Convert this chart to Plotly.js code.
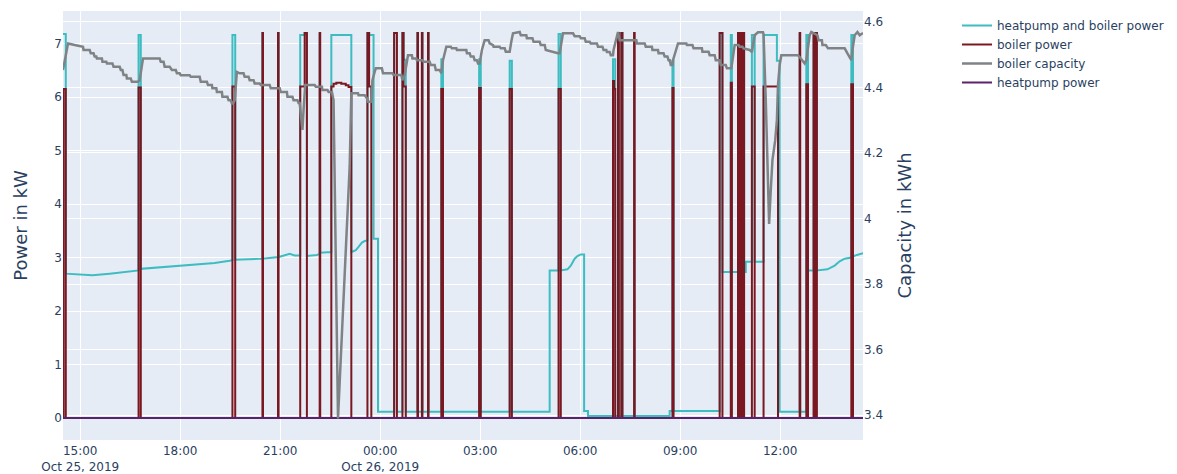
<!DOCTYPE html>
<html>
<head>
<meta charset="utf-8">
<script src="https://cdn.plot.ly/plotly-3.0.1.min.js"></script>
<style>
  html, body { margin: 0; padding: 0; background: #fff; }
  #chart { width: 1177px; height: 474px; }
</style>
</head>
<body>
<div id="chart"></div>
<script>
// Combined power of heat pump and boiler (kW); a repeated time marks a jump
const totalTime = [
  '2019-10-25 14:29', '2019-10-25 14:34', '2019-10-25 14:34', '2019-10-25 15:00', '2019-10-25 15:22',
  '2019-10-25 15:53', '2019-10-25 16:20', '2019-10-25 16:45', '2019-10-25 16:45', '2019-10-25 16:49',
  '2019-10-25 16:49', '2019-10-25 17:23', '2019-10-25 17:59', '2019-10-25 18:35', '2019-10-25 19:02',
  '2019-10-25 19:29', '2019-10-25 19:34', '2019-10-25 19:34', '2019-10-25 19:39', '2019-10-25 19:39',
  '2019-10-25 20:05', '2019-10-25 20:27', '2019-10-25 20:28', '2019-10-25 20:28', '2019-10-25 20:29',
  '2019-10-25 20:29', '2019-10-25 20:50', '2019-10-25 20:56', '2019-10-25 20:56', '2019-10-25 20:57',
  '2019-10-25 20:57', '2019-10-25 21:08', '2019-10-25 21:17', '2019-10-25 21:26', '2019-10-25 21:36',
  '2019-10-25 21:36', '2019-10-25 21:44', '2019-10-25 21:44', '2019-10-25 21:48', '2019-10-25 21:48',
  '2019-10-25 22:06', '2019-10-25 22:11', '2019-10-25 22:11', '2019-10-25 22:12', '2019-10-25 22:12',
  '2019-10-25 22:25', '2019-10-25 22:32', '2019-10-25 22:32', '2019-10-25 23:08', '2019-10-25 23:08',
  '2019-10-25 23:16', '2019-10-25 23:21', '2019-10-25 23:27', '2019-10-25 23:32', '2019-10-25 23:37',
  '2019-10-25 23:37', '2019-10-25 23:40', '2019-10-25 23:40', '2019-10-25 23:48', '2019-10-25 23:48',
  '2019-10-25 23:56', '2019-10-25 23:56',
  '2019-10-26 00:25', '2019-10-26 00:25', '2019-10-26 00:30', '2019-10-26 00:30',
  '2019-10-26 00:40', '2019-10-26 00:40', '2019-10-26 00:42', '2019-10-26 00:42', '2019-10-26 00:46',
  '2019-10-26 00:46', '2019-10-26 01:07', '2019-10-26 01:07', '2019-10-26 01:08', '2019-10-26 01:08',
  '2019-10-26 01:15', '2019-10-26 01:15', '2019-10-26 01:16', '2019-10-26 01:16', '2019-10-26 01:26',
  '2019-10-26 01:26', '2019-10-26 01:27', '2019-10-26 01:27', '2019-10-26 01:50', '2019-10-26 01:50',
  '2019-10-26 01:53', '2019-10-26 01:53', '2019-10-26 02:58', '2019-10-26 02:58', '2019-10-26 03:01',
  '2019-10-26 03:01', '2019-10-26 03:53', '2019-10-26 03:53', '2019-10-26 03:57', '2019-10-26 03:57',
  '2019-10-26 05:05', '2019-10-26 05:05', '2019-10-26 05:21', '2019-10-26 05:21', '2019-10-26 05:25',
  '2019-10-26 05:25', '2019-10-26 05:37', '2019-10-26 05:43', '2019-10-26 05:46', '2019-10-26 05:50',
  '2019-10-26 05:55', '2019-10-26 06:01', '2019-10-26 06:07', '2019-10-26 06:07', '2019-10-26 06:14',
  '2019-10-26 06:14', '2019-10-26 06:59', '2019-10-26 06:59', '2019-10-26 07:03', '2019-10-26 07:03',
  '2019-10-26 07:08', '2019-10-26 07:08', '2019-10-26 07:09:30', '2019-10-26 07:09:30', '2019-10-26 07:14',
  '2019-10-26 07:14', '2019-10-26 07:16', '2019-10-26 07:16', '2019-10-26 07:37', '2019-10-26 07:37',
  '2019-10-26 07:38', '2019-10-26 07:38', '2019-10-26 08:41', '2019-10-26 08:41', '2019-10-26 08:46',
  '2019-10-26 08:46', '2019-10-26 08:48', '2019-10-26 08:48', '2019-10-26 10:11', '2019-10-26 10:11',
  '2019-10-26 10:16', '2019-10-26 10:16', '2019-10-26 10:31', '2019-10-26 10:31', '2019-10-26 10:33',
  '2019-10-26 10:33', '2019-10-26 10:44', '2019-10-26 10:44', '2019-10-26 10:47', '2019-10-26 10:47',
  '2019-10-26 10:49', '2019-10-26 10:49', '2019-10-26 10:51', '2019-10-26 10:51', '2019-10-26 10:52:30',
  '2019-10-26 10:52:30', '2019-10-26 10:55', '2019-10-26 10:55', '2019-10-26 10:58', '2019-10-26 10:58',
  '2019-10-26 11:09', '2019-10-26 11:09', '2019-10-26 11:14', '2019-10-26 11:14', '2019-10-26 11:30',
  '2019-10-26 11:30', '2019-10-26 11:54', '2019-10-26 11:54', '2019-10-26 11:59', '2019-10-26 11:59',
  '2019-10-26 12:35', '2019-10-26 12:35', '2019-10-26 12:36', '2019-10-26 12:36', '2019-10-26 12:47',
  '2019-10-26 12:47', '2019-10-26 12:50', '2019-10-26 12:50', '2019-10-26 13:00', '2019-10-26 13:00',
  '2019-10-26 13:02', '2019-10-26 13:02', '2019-10-26 13:04', '2019-10-26 13:04', '2019-10-26 13:06',
  '2019-10-26 13:06', '2019-10-26 13:25', '2019-10-26 13:38', '2019-10-26 13:47', '2019-10-26 13:56',
  '2019-10-26 14:08', '2019-10-26 14:08', '2019-10-26 14:11', '2019-10-26 14:11', '2019-10-26 14:18',
  '2019-10-26 14:27', '2019-10-26 14:29'
];
const totalPower = [
  7.18, 7.18, 2.70, 2.68, 2.67,
  2.70, 2.73, 2.76, 7.16, 7.16,
  2.79, 2.82, 2.84, 2.87, 2.90,
  2.94, 2.95, 7.16, 7.16, 2.96,
  2.97, 2.98, 2.98, 7.20, 7.20,
  2.98, 3.00, 3.01, 7.20, 7.20,
  3.01, 3.05, 3.07, 3.04, 3.04,
  7.16, 7.16, 7.20, 7.20, 3.03,
  3.05, 3.07, 7.20, 7.20, 3.09,
  3.10, 3.10, 7.16, 7.16, 3.10,
  3.14, 3.20, 3.28, 3.31, 3.32,
  7.20, 7.20, 7.16, 7.16, 3.35,
  3.35, 0.12,
  0.12, 7.20, 7.20, 0.12,
  0.12, 7.20, 7.20, 6.70, 6.70,
  0.12, 0.12, 7.20, 7.20, 0.12,
  0.12, 7.20, 7.20, 0.12, 0.12,
  7.20, 7.20, 0.12, 0.12, 6.71,
  6.71, 0.12, 0.12, 6.71, 6.71,
  0.12, 0.12, 6.68, 6.68, 0.12,
  0.12, 2.76, 2.76, 7.18, 7.18,
  2.76, 2.78, 2.85, 2.92, 2.98,
  3.03, 3.06, 3.06, 0.13, 0.13,
  0.04, 0.04, 6.71, 6.71, 0.04,
  0.04, 7.20, 7.20, 0.04, 0.04,
  7.20, 7.20, 0.04, 0.04, 7.20,
  7.20, 0.04, 0.04, 0.13, 0.13,
  6.68, 6.68, 0.13, 0.13, 7.20,
  7.20, 2.73, 2.73, 7.16, 7.16,
  2.73, 2.73, 7.20, 7.20, 2.73,
  2.73, 7.20, 7.20, 2.73, 2.73,
  7.20, 7.20, 2.73, 2.73, 2.92,
  2.92, 7.16, 7.16, 2.92, 2.92,
  7.16, 7.16, 6.68, 6.68, 0.12,
  0.12, 7.20, 7.20, 0.12, 0.12,
  7.16, 7.16, 2.76, 2.76, 7.20,
  7.20, 2.76, 2.76, 7.20, 7.20,
  2.76, 2.78, 2.85, 2.93, 2.98,
  3.00, 7.16, 7.16, 3.02, 3.05,
  3.07, 3.08
];

// Boiler power (kW), value holds until the next time
const boilerTime = [
  '2019-10-25 14:29', '2019-10-25 14:30', '2019-10-25 14:34', '2019-10-25 16:45', '2019-10-25 16:49',
  '2019-10-25 19:34', '2019-10-25 19:39', '2019-10-25 20:28', '2019-10-25 20:29', '2019-10-25 20:56',
  '2019-10-25 20:57', '2019-10-25 21:36', '2019-10-25 21:44', '2019-10-25 21:48', '2019-10-25 22:11',
  '2019-10-25 22:12', '2019-10-25 22:32', '2019-10-25 22:36', '2019-10-25 22:41', '2019-10-25 22:50',
  '2019-10-25 22:58', '2019-10-25 23:03', '2019-10-25 23:08', '2019-10-25 23:37', '2019-10-25 23:40',
  '2019-10-25 23:44',
  '2019-10-26 00:25', '2019-10-26 00:30', '2019-10-26 00:40', '2019-10-26 00:42', '2019-10-26 00:46',
  '2019-10-26 01:07', '2019-10-26 01:08', '2019-10-26 01:15', '2019-10-26 01:16', '2019-10-26 01:26',
  '2019-10-26 01:27', '2019-10-26 01:50', '2019-10-26 01:53', '2019-10-26 02:58', '2019-10-26 03:01',
  '2019-10-26 03:53', '2019-10-26 03:57', '2019-10-26 05:21', '2019-10-26 05:25', '2019-10-26 06:59',
  '2019-10-26 07:01', '2019-10-26 07:03', '2019-10-26 07:08', '2019-10-26 07:09:30', '2019-10-26 07:14',
  '2019-10-26 07:16', '2019-10-26 07:37', '2019-10-26 07:38', '2019-10-26 08:46', '2019-10-26 08:48',
  '2019-10-26 10:11', '2019-10-26 10:16', '2019-10-26 10:31', '2019-10-26 10:33', '2019-10-26 10:44',
  '2019-10-26 10:47', '2019-10-26 10:49', '2019-10-26 10:51', '2019-10-26 10:52:30', '2019-10-26 10:55',
  '2019-10-26 11:09', '2019-10-26 11:14', '2019-10-26 11:30', '2019-10-26 11:56', '2019-10-26 12:35',
  '2019-10-26 12:36', '2019-10-26 12:47', '2019-10-26 12:50', '2019-10-26 13:00', '2019-10-26 13:02',
  '2019-10-26 13:04', '2019-10-26 13:06', '2019-10-26 14:08', '2019-10-26 14:11', '2019-10-26 14:29'
];
const boilerPower = [
  0, 6.15, 0, 6.18, 0,
  6.20, 0, 7.20, 0, 7.20,
  0, 6.20, 7.20, 0, 7.20,
  0, 6.20, 6.25, 6.27, 6.25,
  6.22, 6.19, 0, 7.20, 6.20,
  0,
  7.20, 0, 7.20, 6.20, 0,
  7.20, 0, 7.20, 0, 7.20,
  0, 6.15, 0, 6.17, 0,
  6.15, 0, 6.15, 0, 6.30,
  6.15, 0, 7.20, 0, 7.20,
  0, 7.20, 0, 6.17, 0,
  7.20, 0, 6.27, 0, 7.20,
  0, 7.20, 0, 7.20, 0,
  6.20, 0, 6.20, 0, 7.20,
  0, 6.24, 0, 7.20, 0,
  7.20, 0, 6.24, 0, 0
];

// Stored boiler capacity (kWh); pairs of equal values are the flat runs of the staircase
const capacityTime = [
  '2019-10-25 14:29', '2019-10-25 14:38', '2019-10-25 14:50', '2019-10-25 15:05', '2019-10-25 15:06',
  '2019-10-25 15:17', '2019-10-25 15:19', '2019-10-25 15:24', '2019-10-25 15:26', '2019-10-25 15:29',
  '2019-10-25 15:30', '2019-10-25 15:39', '2019-10-25 15:40', '2019-10-25 15:47', '2019-10-25 15:48',
  '2019-10-25 15:58', '2019-10-25 16:00', '2019-10-25 16:11', '2019-10-25 16:13', '2019-10-25 16:16',
  '2019-10-25 16:18', '2019-10-25 16:23', '2019-10-25 16:24', '2019-10-25 16:31', '2019-10-25 16:33',
  '2019-10-25 16:44', '2019-10-25 16:47', '2019-10-25 16:53', '2019-10-25 17:23', '2019-10-25 17:25',
  '2019-10-25 17:30', '2019-10-25 17:32', '2019-10-25 17:41', '2019-10-25 17:45', '2019-10-25 17:52',
  '2019-10-25 17:54', '2019-10-25 17:59', '2019-10-25 18:01', '2019-10-25 18:17', '2019-10-25 18:19',
  '2019-10-25 18:35', '2019-10-25 18:37', '2019-10-25 18:48', '2019-10-25 18:50', '2019-10-25 18:57',
  '2019-10-25 18:58', '2019-10-25 19:05', '2019-10-25 19:06', '2019-10-25 19:15', '2019-10-25 19:16',
  '2019-10-25 19:25', '2019-10-25 19:27', '2019-10-25 19:31', '2019-10-25 19:33', '2019-10-25 19:35',
  '2019-10-25 19:38', '2019-10-25 19:42', '2019-10-25 19:47', '2019-10-25 19:54', '2019-10-25 19:56',
  '2019-10-25 20:03', '2019-10-25 20:05', '2019-10-25 20:12', '2019-10-25 20:14', '2019-10-25 20:23',
  '2019-10-25 20:25', '2019-10-25 20:41', '2019-10-25 20:43', '2019-10-25 20:59', '2019-10-25 21:01',
  '2019-10-25 21:12', '2019-10-25 21:13', '2019-10-25 21:22', '2019-10-25 21:24', '2019-10-25 21:31',
  '2019-10-25 21:33', '2019-10-25 21:35', '2019-10-25 21:40', '2019-10-25 21:42', '2019-10-25 21:45',
  '2019-10-25 22:02', '2019-10-25 22:04', '2019-10-25 22:15', '2019-10-25 22:16', '2019-10-25 22:25',
  '2019-10-25 22:27', '2019-10-25 22:33', '2019-10-25 22:34', '2019-10-25 22:36', '2019-10-25 22:44',
  '2019-10-25 23:05', '2019-10-25 23:08', '2019-10-25 23:20', '2019-10-25 23:21', '2019-10-25 23:32',
  '2019-10-25 23:36', '2019-10-25 23:38', '2019-10-25 23:44', '2019-10-25 23:46', '2019-10-25 23:50',
  '2019-10-25 23:52',
  '2019-10-26 00:03', '2019-10-26 00:05', '2019-10-26 00:22', '2019-10-26 00:24', '2019-10-26 00:38',
  '2019-10-26 00:40', '2019-10-26 00:44', '2019-10-26 00:50', '2019-10-26 00:57', '2019-10-26 00:58',
  '2019-10-26 01:05', '2019-10-26 01:06', '2019-10-26 01:16', '2019-10-26 01:18', '2019-10-26 01:29',
  '2019-10-26 01:31', '2019-10-26 01:38', '2019-10-26 01:40', '2019-10-26 01:47', '2019-10-26 01:50',
  '2019-10-26 01:53', '2019-10-26 01:59', '2019-10-26 02:07', '2019-10-26 02:09', '2019-10-26 02:17',
  '2019-10-26 02:18', '2019-10-26 02:35', '2019-10-26 02:36', '2019-10-26 02:41', '2019-10-26 02:43',
  '2019-10-26 02:48', '2019-10-26 02:50', '2019-10-26 02:54', '2019-10-26 02:56', '2019-10-26 02:59',
  '2019-10-26 03:03', '2019-10-26 03:08', '2019-10-26 03:15', '2019-10-26 03:17', '2019-10-26 03:23',
  '2019-10-26 03:24', '2019-10-26 03:35', '2019-10-26 03:37', '2019-10-26 03:44', '2019-10-26 03:46',
  '2019-10-26 03:53', '2019-10-26 03:56', '2019-10-26 03:59', '2019-10-26 04:11', '2019-10-26 04:13',
  '2019-10-26 04:23', '2019-10-26 04:24', '2019-10-26 04:34', '2019-10-26 04:36', '2019-10-26 04:47',
  '2019-10-26 04:49', '2019-10-26 04:56', '2019-10-26 04:58', '2019-10-26 05:20', '2019-10-26 05:23',
  '2019-10-26 05:29', '2019-10-26 05:47', '2019-10-26 05:50', '2019-10-26 05:59', '2019-10-26 06:01',
  '2019-10-26 06:08', '2019-10-26 06:10', '2019-10-26 06:17', '2019-10-26 06:19', '2019-10-26 06:30',
  '2019-10-26 06:32', '2019-10-26 06:40', '2019-10-26 06:42', '2019-10-26 06:47', '2019-10-26 06:48',
  '2019-10-26 06:53', '2019-10-26 06:55', '2019-10-26 06:59', '2019-10-26 07:00', '2019-10-26 07:08',
  '2019-10-26 07:11', '2019-10-26 07:41', '2019-10-26 07:42', '2019-10-26 07:56', '2019-10-26 07:58',
  '2019-10-26 08:09', '2019-10-26 08:10', '2019-10-26 08:20', '2019-10-26 08:21', '2019-10-26 08:30',
  '2019-10-26 08:32', '2019-10-26 08:37', '2019-10-26 08:39', '2019-10-26 08:41', '2019-10-26 08:43',
  '2019-10-26 08:46', '2019-10-26 08:47', '2019-10-26 08:56', '2019-10-26 09:11', '2019-10-26 09:12',
  '2019-10-26 09:22', '2019-10-26 09:24', '2019-10-26 09:39', '2019-10-26 09:40', '2019-10-26 09:51',
  '2019-10-26 09:53', '2019-10-26 10:02', '2019-10-26 10:04', '2019-10-26 10:11', '2019-10-26 10:13',
  '2019-10-26 10:22', '2019-10-26 10:24', '2019-10-26 10:32', '2019-10-26 10:38', '2019-10-26 10:45',
  '2019-10-26 10:47', '2019-10-26 10:52', '2019-10-26 10:54', '2019-10-26 11:05', '2019-10-26 11:09',
  '2019-10-26 11:14', '2019-10-26 11:20', '2019-10-26 11:29', '2019-10-26 11:30', '2019-10-26 11:34',
  '2019-10-26 11:38', '2019-10-26 11:40', '2019-10-26 11:43', '2019-10-26 11:46', '2019-10-26 11:51',
  '2019-10-26 11:54', '2019-10-26 11:56', '2019-10-26 11:59', '2019-10-26 12:02', '2019-10-26 12:32',
  '2019-10-26 12:37', '2019-10-26 12:44', '2019-10-26 12:47', '2019-10-26 12:53', '2019-10-26 12:56',
  '2019-10-26 13:07', '2019-10-26 13:09', '2019-10-26 13:15', '2019-10-26 13:16', '2019-10-26 13:22',
  '2019-10-26 13:26', '2019-10-26 13:56', '2019-10-26 14:01', '2019-10-26 14:08', '2019-10-26 14:10',
  '2019-10-26 14:14', '2019-10-26 14:19', '2019-10-26 14:23', '2019-10-26 14:29'
];
const capacityKWh = [
  4.453, 4.534, 4.529, 4.524, 4.514,
  4.514, 4.504, 4.504, 4.494, 4.494,
  4.488, 4.488, 4.478, 4.478, 4.473,
  4.473, 4.463, 4.463, 4.453, 4.453,
  4.438, 4.438, 4.427, 4.427, 4.417,
  4.417, 4.422, 4.488, 4.488, 4.478,
  4.478, 4.463, 4.463, 4.453, 4.453,
  4.443, 4.443, 4.437, 4.437, 4.432,
  4.432, 4.417, 4.417, 4.407, 4.407,
  4.397, 4.397, 4.386, 4.386, 4.371,
  4.371, 4.361, 4.361, 4.351, 4.351,
  4.360, 4.447, 4.443, 4.443, 4.432,
  4.432, 4.422, 4.422, 4.412, 4.412,
  4.407, 4.407, 4.397, 4.397, 4.386,
  4.386, 4.371, 4.371, 4.361, 4.361,
  4.352, 4.352, 4.270, 4.331, 4.407,
  4.407, 4.402, 4.402, 4.392, 4.392,
  4.386, 4.386, 4.371, 4.361, 3.390,
  4.158, 4.382, 4.382, 4.376, 4.376,
  4.367, 4.356, 4.356, 4.422, 4.447,
  4.458,
  4.458, 4.443, 4.443, 4.438, 4.438,
  4.422, 4.437, 4.498, 4.498, 4.488,
  4.488, 4.483, 4.483, 4.478, 4.478,
  4.468, 4.468, 4.453, 4.453, 4.443,
  4.483, 4.524, 4.524, 4.519, 4.519,
  4.514, 4.514, 4.504, 4.504, 4.494,
  4.494, 4.483, 4.483, 4.473, 4.473,
  4.514, 4.544, 4.544, 4.534, 4.529,
  4.524, 4.524, 4.519, 4.519, 4.509,
  4.509, 4.540, 4.565, 4.569, 4.559,
  4.559, 4.550, 4.550, 4.539, 4.539,
  4.529, 4.529, 4.514, 4.504, 4.504,
  4.565, 4.565, 4.556, 4.556, 4.550,
  4.550, 4.539, 4.539, 4.534, 4.534,
  4.524, 4.524, 4.514, 4.514, 4.508,
  4.508, 4.498, 4.498, 4.514, 4.569,
  4.544, 4.544, 4.534, 4.534, 4.524,
  4.524, 4.514, 4.514, 4.504, 4.504,
  4.494, 4.494, 4.483, 4.483, 4.468,
  4.468, 4.483, 4.534, 4.534, 4.529,
  4.529, 4.519, 4.519, 4.509, 4.509,
  4.498, 4.498, 4.483, 4.483, 4.468,
  4.468, 4.458, 4.458, 4.529, 4.529,
  4.524, 4.524, 4.519, 4.514, 4.508,
  4.559, 4.568, 4.568, 4.562, 4.361,
  4.086, 3.983, 4.086, 4.178, 4.239,
  4.300, 4.407, 4.468, 4.498, 4.498,
  4.488, 4.473, 4.483, 4.559, 4.569,
  4.559, 4.544, 4.544, 4.529, 4.529,
  4.519, 4.519, 4.504, 4.483, 4.514,
  4.559, 4.569, 4.559, 4.566
];

// Heat pump power (kW)
const heatpumpTime = ['2019-10-25 14:29', '2019-10-26 14:29'];
const heatpumpPower = [0, 0];

const traces = [
  {
    name: 'heatpump and boiler power', x: totalTime, y: totalPower,
    type: 'scatter', mode: 'lines', line: { color: '#3dbdc1', width: 2 }
  },
  {
    name: 'boiler power', x: boilerTime, y: boilerPower,
    type: 'scatter', mode: 'lines', line: { color: '#7b1720', width: 2, shape: 'hv' }
  },
  {
    name: 'boiler capacity', x: capacityTime, y: capacityKWh, yaxis: 'y2',
    type: 'scatter', mode: 'lines', line: { color: '#7f8386', width: 2.5 }
  },
  {
    name: 'heatpump power', x: heatpumpTime, y: heatpumpPower,
    type: 'scatter', mode: 'lines', line: { color: '#5a2268', width: 2 }
  }
];

const layout = {
  width: 1177, height: 474,
  margin: { l: 63, r: 314, t: 11, b: 34, autoexpand: false },
  paper_bgcolor: '#ffffff',
  plot_bgcolor: '#E5ECF6',
  font: { family: '"DejaVu Sans", Verdana, sans-serif', size: 12, color: '#2a3f5f' },
  showlegend: true,
  legend: { x: 1.1175, y: 1, xanchor: 'left', yanchor: 'top', font: { size: 12 } },
  xaxis: {
    type: 'date',
    range: ['2019-10-25 14:29', '2019-10-26 14:29'],
    dtick: 3 * 3600 * 1000, tick0: '2019-10-25 00:00',
    gridcolor: '#ffffff', linecolor: '#ffffff', zeroline: false, automargin: false
  },
  yaxis: {
    title: { text: 'Power in kW', font: { size: 18 }, standoff: 22 },
    range: [-0.41, 7.61], dtick: 1,
    gridcolor: '#ffffff', zerolinecolor: '#ffffff', zerolinewidth: 2, automargin: true
  },
  yaxis2: {
    title: { text: 'Capacity in kWh', font: { size: 18 }, standoff: 16 },
    overlaying: 'y', side: 'right',
    range: [3.324, 4.633], dtick: 0.2,
    gridcolor: '#ffffff', zeroline: false, automargin: true
  }
};

Plotly.newPlot('chart', traces, layout, { displayModeBar: false, staticPlot: true });
</script>
</body>
</html>
